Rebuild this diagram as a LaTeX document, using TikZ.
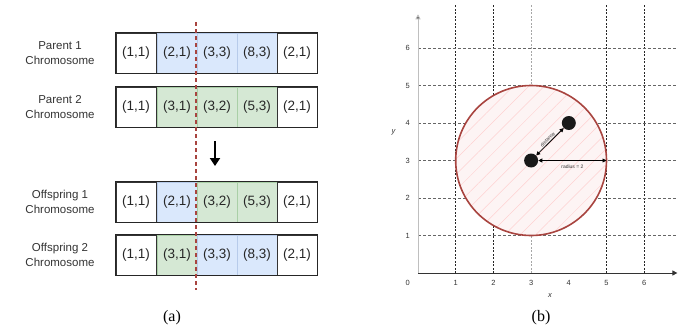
\documentclass[tikz,border=0pt]{standalone}
\usepackage{fontspec}
\setmainfont{Liberation Serif}
\setsansfont{Liberation Sans}
\usetikzlibrary{arrows.meta,patterns.meta}
\definecolor{cblue}{HTML}{DAE8FC}
\definecolor{cbluel}{HTML}{B7CBEA}
\definecolor{cgreen}{HTML}{D5E8D4}
\definecolor{cgreenl}{HTML}{A9CFA6}
\definecolor{cred}{HTML}{A8443F}
\definecolor{cpink}{HTML}{FDF4F4}
\tikzset{
  cellfont/.style={font=\sffamily\fontsize{13.5}{13.5}\selectfont,text=black!85},
  whitecell/.style={draw=black!80,line width=0.7pt,fill=white,minimum width=40pt,minimum height=40pt,inner sep=0pt,cellfont},
  bluecell/.style={draw=cbluel,line width=0.6pt,fill=cblue,minimum width=40pt,minimum height=40pt,inner sep=0pt,cellfont},
  greencell/.style={draw=cgreenl,line width=0.6pt,fill=cgreen,minimum width=40pt,minimum height=40pt,inner sep=0pt,cellfont},
  rowlabel/.style={align=center,font=\sffamily\fontsize{11.5}{14.5}\selectfont,text=black!80},
  caption/.style={font=\fontsize{16}{16}\selectfont},
  tick/.style={font=\sffamily\fontsize{7.5}{7.5}\selectfont,text=black!80},
  gridv/.style={black!85,line width=0.9pt,dash pattern=on 2pt off 1.5pt},
  gridvl/.style={black!35,line width=0.8pt,dash pattern=on 2pt off 1.5pt},
  gridh/.style={black!60,line width=0.8pt,dash pattern=on 3pt off 2pt},
  pt/.style={circle,fill=black!90,minimum size=14pt,inner sep=0pt},
  tiny/.style={font=\sffamily\fontsize{5}{5}\selectfont,text=black!80},
}
\begin{document}
\begin{tikzpicture}[x=1pt,y=-1pt]
\useasboundingbox (0,0) rectangle (678,335);
% ---------- panel (a) ----------
% row 1: Parent 1
\node[rowlabel] (l1) at (60,53) {Parent 1\\Chromosome};
\node[whitecell] (a11) at (136,53) {(1,1)};
\node[bluecell]  (a12) at (177,53) {(2,1)};
\node[bluecell]  (a13) at (217,53) {(3,3)};
\node[bluecell]  (a14) at (257,53) {(8,3)};
\node[whitecell] (a15) at (297,53) {(2,1)};
% row 2: Parent 2
\node[rowlabel] (l2) at (60,107) {Parent 2\\Chromosome};
\node[whitecell] (a21) at (136,107) {(1,1)};
\node[greencell] (a22) at (177,107) {(3,1)};
\node[greencell] (a23) at (217,107) {(3,2)};
\node[greencell] (a24) at (257,107) {(5,3)};
\node[whitecell] (a25) at (297,107) {(2,1)};
% row 3: Offspring 1
\node[rowlabel] (l3) at (60,202) {Offspring 1\\Chromosome};
\node[whitecell] (a31) at (136,202) {(1,1)};
\node[bluecell]  (a32) at (177,202) {(2,1)};
\node[greencell] (a33) at (217,202) {(3,2)};
\node[greencell] (a34) at (257,202) {(5,3)};
\node[whitecell] (a35) at (297,202) {(2,1)};
% row 4: Offspring 2
\node[rowlabel] (l4) at (60,255) {Offspring 2\\Chromosome};
\node[whitecell] (a41) at (136,255) {(1,1)};
\node[greencell] (a42) at (177,255) {(3,1)};
\node[bluecell]  (a43) at (217,255) {(3,3)};
\node[bluecell]  (a44) at (257,255) {(8,3)};
\node[whitecell] (a45) at (297,255) {(2,1)};
% outer frames
\foreach \r in {1,2,3,4}{
  \draw[black!85,line width=1.2pt] (a\r1.north west) rectangle (a\r5.south east);
}
% crossover line
\coordinate (ct) at (196,22);
\coordinate (cb) at (196,290);
\draw[cred,line width=1.6pt,dash pattern=on 4pt off 3pt] (ct) -- (cb);
% arrow
\coordinate (arT) at (215,141);
\coordinate (arB) at (215,166);
\draw[line width=2pt,-{Triangle[length=8pt,width=10pt]}] (arT) -- (arB);
\node[caption] (capa) at (172,318) {(a)};
% ---------- panel (b) ----------
\begin{scope}[shift={(418,273)},x=37.7pt,y=37.5pt]
  \foreach \i in {1,2,5,6}{\draw[gridv] (\i,0) -- (\i,7.15);}
  \draw[gridvl] (3,0) -- (3,7.15);
  \foreach \j in {1,...,6}{\draw[gridh] (0,\j) -- (6.87,\j);}
  % circle
  \fill[cpink] (3,3) circle (2);
  \fill[pattern={Lines[angle=45,distance=11pt,line width=0.5pt]},pattern color=red!18] (3,3) circle (2);
  \draw[cred,line width=1.6pt] (3,3) circle (2);
  % axes
  \coordinate (O) at (0,0);
  \coordinate (xe) at (6.88,0);
  \coordinate (ye) at (0,6.9);
  \draw[black!80,line width=1pt,-{Triangle[length=5pt,width=5pt]}] (O) -- (xe);
  \draw[black!25,line width=1pt,-{Triangle[length=5pt,width=5pt,fill=black!80]}] (O) -- (ye);
  \foreach \i in {1,...,6}{\node[tick] (tx\i) at (\i,-0.27) {\i};}
  \foreach \j in {1,...,6}{\node[tick] (ty\j) at (-0.27,\j) {\j};}
  \node[tick] (t0) at (-0.27,-0.27) {0};
  \node[tick] (xl) at (3.5,-0.6) {\itshape x};
  \node[tick] (yl) at (-0.65,3.75) {\itshape y};
  % points
  \node[pt] (p1) at (3,3) {};
  \node[pt] (p2) at (4,4) {};
  \coordinate (cr) at (5,3);
  \draw[black,line width=0.8pt,{Triangle[length=4pt,width=4pt]}-{Triangle[length=4pt,width=4pt]}] (p1) -- node[tiny,sloped,above,inner sep=1pt] {distance} (p2);
  \draw[black,line width=0.8pt,{Triangle[length=4pt,width=4pt]}-{Triangle[length=4pt,width=4pt]}] (p1) -- node[tiny,below=1pt] {radius = 2} (cr);
\end{scope}
\node[caption] (capb) at (541,318) {(b)};
\end{tikzpicture}
\end{document}
